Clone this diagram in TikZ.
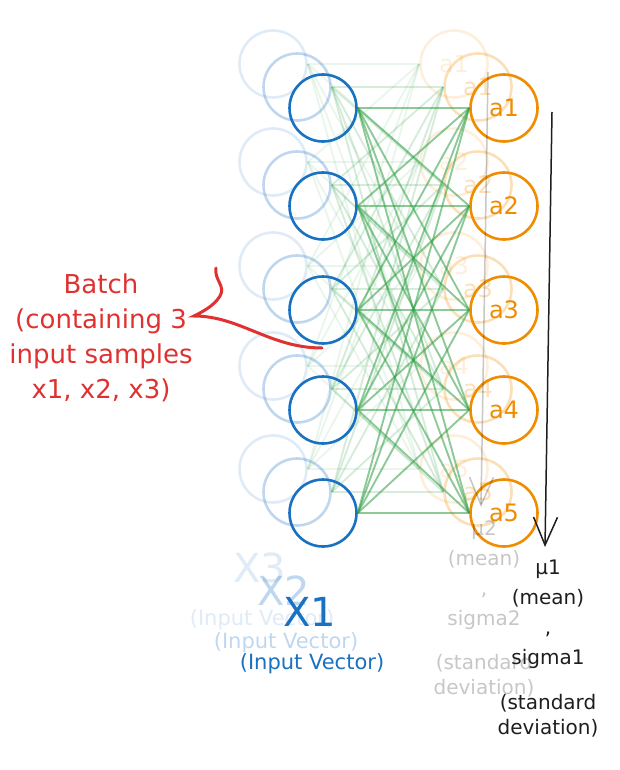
\documentclass[tikz,border=0pt]{standalone}
\usepackage{fontspec}
\setmainfont{DejaVu Sans}
\usetikzlibrary{arrows.meta}
\definecolor{inblue}{HTML}{1971C2}
\definecolor{outorange}{HTML}{F08C00}
\definecolor{wiregreen}{HTML}{2F9E44}
\definecolor{batchred}{HTML}{E03131}
\definecolor{inkblack}{HTML}{1E1E1E}
\tikzset{
  inp/.style={circle, draw=inblue, line width=2.6pt, minimum size=67pt, inner sep=0pt},
  outp/.style={circle, draw=outorange, line width=2.6pt, minimum size=67pt, inner sep=0pt,
    text=outorange, font=\fontsize{24}{28}\selectfont},
  wire/.style={draw=wiregreen, line width=1.9pt},
  xname/.style={text=inblue, font=\fontsize{40}{44}\selectfont, inner sep=0pt},
  xnote/.style={text=inblue, font=\fontsize{21}{25}\selectfont, inner sep=0pt},
  statnote/.style={text=inkblack, align=center, inner sep=0pt, anchor=north},
  meanarrow/.style={draw=inkblack, line width=1.5pt,
    -{Straight Barb[length=28pt, width=24pt, line width=1.5pt]}},
  batchnote/.style={text=batchred, align=center, font=\fontsize{26}{35}\selectfont},
  batchline/.style={draw=batchred, line width=3pt, line cap=round}
}
\begin{document}
\begin{tikzpicture}[x=1pt, y=-1pt]
\useasboundingbox (0,0) rectangle (619,770);
% one layer per sample, x3 at the back, x1 in front
\foreach \s/\dx/\dy/\op/\wop in {3/-50/-44/0.14/0.1, 2/-26/-21/0.28/0.2, 1/0/0/1/0.55} {
  \begin{scope}[shift={(\dx,\dy)}, opacity=\op]
    \foreach \i/\y in {1/108, 2/206, 3/310, 4/410, 5/513} {
      \node[inp] (x\s\i) at (323,\y) {};
      \node[outp] (a\s\i) at (504,\y) {a\i};
    }
    \foreach \i in {1,...,5}
      \foreach \j in {1,...,5}
        \draw[wire, opacity=\wop] (x\s\i.east) -- (a\s\j.west);
    \node[xname] (xt\s) at (310,612) {X\s};
    \node[xnote] (xv\s) at (312,664) {(Input Vector)};
  \end{scope}
}
% mean and deviation over the outputs
\foreach \s/\dx/\dy/\op in {2/-64/-40/0.25, 1/0/0/1} {
  \begin{scope}[shift={(\dx,\dy)}, opacity=\op]
    \coordinate (mtop\s) at (552,112);
    \coordinate (mtip\s) at (545,547);
    \draw[meanarrow] (mtop\s) -- (mtip\s);
    \node[statnote, font=\fontsize{20}{30}\selectfont] (mu\s) at (548,560) {μ\s\\(mean)\\,\\sigma\s};
    \node[statnote, font=\fontsize{20}{25}\selectfont] (sd\s) at (548,694) {(standard\\deviation)};
  \end{scope}
}
% batch note
\node[batchnote] (batch) at (101,338) {Batch\\(containing 3\\input samples\\x1, x2, x3)};
\coordinate (bstart) at (216,268);
\coordinate (bknee) at (220,296);
\coordinate (btip) at (194,316);
\coordinate (bend) at (322,348);
\draw[batchline] (bstart) .. controls (214,280) and (226,286) .. (bknee)
  .. controls (214,306) and (202,312) .. (btip)
  .. controls (240,316) and (270,348) .. (bend);
\end{tikzpicture}
\end{document}
